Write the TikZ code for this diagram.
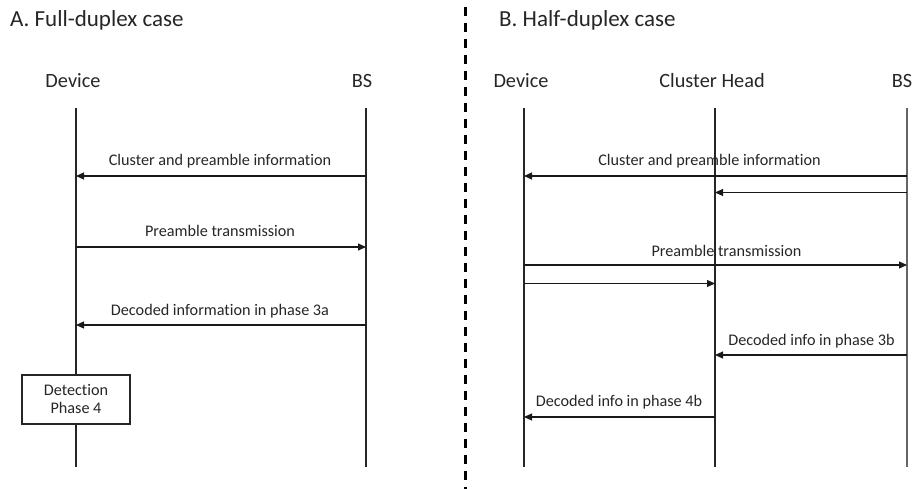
\documentclass[tikz,border=0pt]{standalone}
\usepackage{fontspec}
\setmainfont[Ligatures=NoCommon]{Carlito}
\usetikzlibrary{arrows.meta}
\begin{document}
\begin{tikzpicture}[x=1pt,y=-1pt,
  lifeline/.style={draw=black!85,line width=1.1pt},
  msg/.style={draw=black!90,line width=1.1pt,-{Triangle[length=8pt,width=7pt]}},
  msglabel/.style={anchor=base,inner sep=0pt,font=\fontsize{16.2}{19}\selectfont,text=black!85},
  header/.style={anchor=base,inner sep=0pt,font=\fontsize{20.3}{24}\selectfont,text=black!85},
  paneltitle/.style={anchor=base west,inner sep=0pt,font=\fontsize{23}{27}\selectfont,text=black!85},
  detbox/.style={draw=black!85,line width=1.1pt,fill=white,minimum width=108pt,minimum height=49pt,inner sep=0pt,align=center,font=\fontsize{16.2}{19}\selectfont,text=black!85},
  divider/.style={draw=black,line width=2.3pt,dash pattern=on 9pt off 7pt}]
\useasboundingbox (0,0) rectangle (917,489);
% titles
\node[paneltitle] (tA) at (10,27) {A. Full-duplex case};
\node[paneltitle] (tB) at (499,27) {B. Half-duplex case};
% divider
\coordinate (dtop) at (465.5,7);
\coordinate (dbot) at (465.5,489);
\draw[divider] (dtop) -- (dbot);
% headers
\node[header] (hAd) at (73,88) {Device};
\node[header] (hAb) at (362,88) {BS};
\node[header] (hBd) at (521,88) {Device};
\node[header] (hBc) at (712,88) {Cluster Head};
\node[header] (hBb) at (902,88) {BS};
% lifeline ends
\coordinate (Adt) at (76,108); \coordinate (Adb) at (76,467);
\coordinate (Abt) at (366,108); \coordinate (Abb) at (366,467);
\coordinate (Bdt) at (524,108); \coordinate (Bdb) at (524,467);
\coordinate (Bct) at (715,108); \coordinate (Bcb) at (715,467);
\coordinate (Bbt) at (907,108); \coordinate (Bbb) at (907,467);
% detection box
\node[detbox] (det) at (76,399.5) {};
\node[msglabel] (det1) at (76,395) {Detection};
\node[msglabel] (det2) at (76,413) {Phase 4};
\draw[lifeline] (Adt) -- (det.north);
\draw[lifeline] (det.south) -- (Adb);
\draw[lifeline] (Abt) -- (Abb);
\draw[lifeline] (Bdt) -- (Bdb);
\draw[lifeline] (Bct) -- (Bcb);
\draw[lifeline,draw=black!60] (Bbt) -- (Bbb);
% Panel A messages
\coordinate (a1s) at (366,176); \coordinate (a1e) at (76,176);
\coordinate (a2s) at (76,247); \coordinate (a2e) at (366,247);
\coordinate (a3s) at (366,325); \coordinate (a3e) at (76,325);
\draw[msg] (a1s) -- (a1e);
\draw[msg] (a2s) -- (a2e);
\draw[msg] (a3s) -- (a3e);
\node[msglabel] (la1) at (220,166) {Cluster and preamble information};
\node[msglabel] (la2) at (220,236.5) {Preamble transmission};
\node[msglabel] (la3) at (220,315) {Decoded information in phase 3a};
% Panel B messages
\coordinate (b1s) at (907,176); \coordinate (b1e) at (524,176);
\coordinate (b2s) at (907,192.5); \coordinate (b2e) at (715,192.5);
\coordinate (b3s) at (524,265); \coordinate (b3e) at (907,265);
\coordinate (b4s) at (524,283.5); \coordinate (b4e) at (715,283.5);
\coordinate (b5s) at (907,355); \coordinate (b5e) at (715,355);
\coordinate (b6s) at (715,417); \coordinate (b6e) at (524,417);
\draw[msg] (b1s) -- (b1e);
\draw[msg] (b2s) -- (b2e);
\draw[msg] (b3s) -- (b3e);
\draw[msg] (b4s) -- (b4e);
\draw[msg] (b5s) -- (b5e);
\draw[msg] (b6s) -- (b6e);
\node[msglabel] (lb1) at (709.5,166) {Cluster and preamble information};
\node[msglabel] (lb3) at (726.5,256) {Preamble transmission};
\node[msglabel] (lb5) at (811.5,345) {Decoded info in phase 3b};
\node[msglabel] (lb6) at (619,406.5) {Decoded info in phase 4b};
\end{tikzpicture}
\end{document}
